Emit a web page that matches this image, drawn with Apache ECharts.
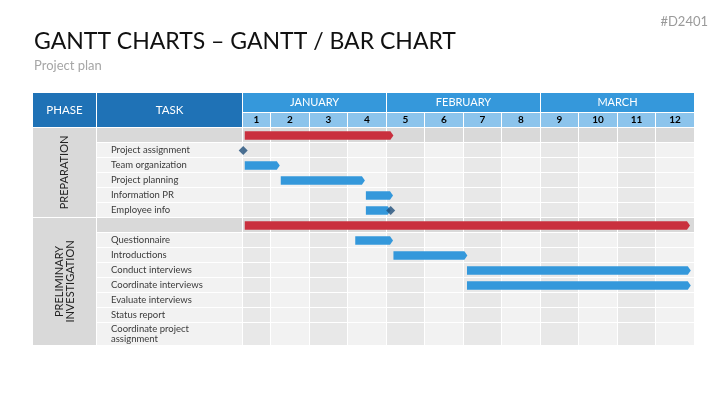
<!DOCTYPE html>
<html><head><meta charset="utf-8">
<script src="https://cdn.jsdelivr.net/npm/echarts@6/dist/echarts.min.js"></script>
<style>html,body{margin:0;padding:0;background:#fff}#c{width:727px;height:409px}</style>
</head><body><div id="c"></div>
<script>
// ---------------- data ----------------
const chartTitle = 'GANTT CHARTS – GANTT / BAR CHART';
const chartSubtitle = 'Project plan';
const docCode = '#D2401';
const headerPhase = 'PHASE';
const headerTask = 'TASK';
const months = ['JANUARY', 'FEBRUARY', 'MARCH'];
const monthFirstWeek = [1, 5, 9];
const monthLastWeek = [4, 8, 12];
const weekLabels = ['1', '2', '3', '4', '5', '6', '7', '8', '9', '10', '11', '12'];
const phaseNames = ['PREPARATION', 'PRELIMINARY\nINVESTIGATION'];
const phaseBarStart = [0.31, 0.31];
const phaseBarEnd = [4.17, 11.87];
const taskNames = ['Project assignment', 'Team organization', 'Project planning', 'Information PR', 'Employee info',
  'Questionnaire', 'Introductions', 'Conduct interviews', 'Coordinate interviews', 'Evaluate interviews',
  'Status report', 'Coordinate project\nassignment'];
const taskPhase = [0, 0, 0, 0, 0, 1, 1, 1, 1, 1, 1, 1];
const taskStart = [null, 0.31, 1.245, 3.455, 3.455, 3.18, 4.17, 6.08, 6.08, null, null, null];
const taskEnd = [null, 1.22, 3.43, 4.16, 4.10, 4.16, 6.09, 11.89, 11.89, null, null, null];
const milestoneWeek = [0.27, null, null, null, 4.10, null, null, null, null, null, null, null];
const timelineStart = 0.265; // visible start of week 1

// ---------------- layout (code) ----------------
const FONT = 'Lato';
const C = {
  headDark: '#1f72b6', headMonth: '#3598db', headWeek: '#8cc4ec',
  grayDark: '#d9d9d9', grayOdd: '#e8e8e8', grayEven: '#f2f2f2',
  red: '#c9303e', blue: '#3498db', navy: '#1f4e79', text: '#3a3a3a'
};
const rows = [];
let yCur = 0;
phaseNames.forEach((p, pi) => {
  const pStart = yCur;
  rows.push({ kind: 'phase', idx: pi, y0: yCur, y1: yCur + 1 }); yCur += 1;
  taskNames.forEach((t, ti) => {
    if (taskPhase[ti] === pi) {
      const h = t.indexOf('\n') >= 0 ? 23 / 15 : 1;
      rows.push({ kind: 'task', idx: ti, y0: yCur, y1: yCur + h }); yCur += h;
    }
  });
  rows.push({ kind: 'phaseEnd', idx: pi, y0: pStart, y1: yCur });
});
const yMax = yCur;
const yMin = -(20 + 15) / 15;
const weekRowTop = -1;

function cellSeries(gridIdx, cells, z) {
  return {
    type: 'custom', xAxisIndex: gridIdx, yAxisIndex: gridIdx, z: z, silent: true,
    encode: { x: [0, 1], y: [2, 3] },
    data: cells.map(c => [c.x0, c.x1, c.y0, c.y1]),
    renderItem: function (params, api) {
      const c = cells[params.dataIndex];
      const p0 = api.coord([api.value(0), api.value(2)]);
      const p1 = api.coord([api.value(1), api.value(3)]);
      const x = Math.round(Math.min(p0[0], p1[0])), y = Math.round(Math.min(p0[1], p1[1]));
      const x2 = Math.round(Math.max(p0[0], p1[0])), y2 = Math.round(Math.max(p0[1], p1[1]));
      const children = [{ type: 'rect', shape: { x: x, y: y, width: x2 - x - 1, height: y2 - y - 1 }, style: { fill: c.fill } }];
      if (c.text) {
        const cx = c.align === 'left' ? x + c.pad : (x + x2 - 1) / 2;
        const cy = (y + y2 - 1) / 2;
        children.push({
          type: 'text', x: cx, y: cy, rotation: c.rotate ? Math.PI / 2 : 0,
          style: {
            text: c.text, fill: c.color, fontFamily: FONT, fontSize: c.size, fontWeight: c.weight || 'normal',
            align: c.align || 'center', verticalAlign: 'middle', lineHeight: c.lh || c.size + 2
          }
        });
      }
      return { type: 'group', children: children };
    }
  };
}

// phase column
const phaseCells = [{ x0: 0, x1: 1, y0: yMin, y1: 0, fill: C.headDark, text: headerPhase, color: '#fff', size: 11.5 }];
rows.filter(r => r.kind === 'phaseEnd').forEach(r => {
  phaseCells.push({ x0: 0, x1: 1, y0: r.y0, y1: r.y1, fill: C.grayDark, text: phaseNames[r.idx], color: '#222', size: 11, rotate: true, lh: 11 });
});
// task column
const taskCells = [{ x0: 0, x1: 1, y0: yMin, y1: 0, fill: C.headDark, text: headerTask, color: '#fff', size: 11.5 }];
rows.forEach(r => {
  if (r.kind === 'phase') taskCells.push({ x0: 0, x1: 1, y0: r.y0, y1: r.y1, fill: C.grayDark });
  if (r.kind === 'task') taskCells.push({ x0: 0, x1: 1, y0: r.y0, y1: r.y1, fill: C.grayEven, text: taskNames[r.idx], color: C.text, size: 9.5, align: 'left', pad: 14, lh: 10 });
});
// timeline
const timeCells = [];
months.forEach((m, i) => {
  timeCells.push({ x0: Math.max(monthFirstWeek[i] - 1, timelineStart), x1: monthLastWeek[i], y0: yMin, y1: weekRowTop, fill: C.headMonth, text: m, color: '#fff', size: 11 });
});
weekLabels.forEach((w, i) => {
  const x0 = Math.max(i, timelineStart), x1 = i + 1;
  timeCells.push({ x0: x0, x1: x1, y0: weekRowTop, y1: 0, fill: C.headWeek, text: w, color: '#000', size: 10, weight: 'bold' });
  rows.forEach(r => {
    if (r.kind === 'phase') timeCells.push({ x0: x0, x1: x1, y0: r.y0, y1: r.y1, fill: C.grayDark });
    if (r.kind === 'task') timeCells.push({ x0: x0, x1: x1, y0: r.y0, y1: r.y1, fill: i % 2 === 0 ? C.grayOdd : C.grayEven });
  });
});

// bars
const bars = [];
rows.forEach(r => {
  const mid = (r.y0 + r.y1) / 2;
  if (r.kind === 'phase') bars.push({ s: phaseBarStart[r.idx], e: phaseBarEnd[r.idx], y: mid, color: C.red });
  if (r.kind === 'task' && taskStart[r.idx] != null) bars.push({ s: taskStart[r.idx], e: taskEnd[r.idx], y: mid, color: C.blue });
});
const milestones = [];
rows.forEach(r => {
  if (r.kind === 'task' && milestoneWeek[r.idx] != null) milestones.push([milestoneWeek[r.idx], (r.y0 + r.y1) / 2]);
});

const barSeries = {
  type: 'custom', xAxisIndex: 2, yAxisIndex: 2, z: 10, silent: true, clip: false,
  encode: { x: [0, 1], y: 2 },
  data: bars.map(b => [b.s, b.e, b.y]),
  renderItem: function (params, api) {
    const b = bars[params.dataIndex];
    const p0 = api.coord([api.value(0), api.value(2)]);
    const p1 = api.coord([api.value(1), api.value(2)]);
    const h = 8.5, tip = 3;
    const t = p0[1] - h / 2, bt = p0[1] + h / 2;
    return {
      type: 'polygon',
      shape: { points: [[p0[0], t], [p1[0] - tip, t], [p1[0], p0[1]], [p1[0] - tip, bt], [p0[0], bt]] },
      style: { fill: b.color }
    };
  }
};

const chart = echarts.init(document.getElementById('c'), null, { renderer: 'canvas' });
chart.setOption({
  animation: false,
  backgroundColor: '#fff',
  title: [
    { text: chartTitle, subtext: chartSubtitle, left: 29, top: 25, itemGap: 6,
      textStyle: { fontFamily: FONT, fontSize: 23, fontWeight: 'normal', color: '#111' },
      subtextStyle: { fontFamily: FONT, fontSize: 13, color: '#a6a6a6' } },
    { text: docCode, right: 14, top: 10, textStyle: { fontFamily: FONT, fontSize: 13, fontWeight: 'normal', color: '#9a9a9a' } }
  ],
  grid: [
    { left: 33, width: 64, top: 93, height: 253 },
    { left: 97, width: 146, top: 93, height: 253 },
    { left: 243, right: 32, top: 93, height: 253 }
  ],
  xAxis: [
    { gridIndex: 0, type: 'value', min: 0, max: 1, show: false },
    { gridIndex: 1, type: 'value', min: 0, max: 1, show: false },
    { gridIndex: 2, type: 'value', min: timelineStart, max: 12, show: false }
  ],
  yAxis: [0, 1, 2].map(i => ({ gridIndex: i, type: 'value', inverse: true, min: yMin, max: yMax, show: false })),
  series: [
    cellSeries(0, phaseCells, 1),
    cellSeries(1, taskCells, 1),
    cellSeries(2, timeCells, 1),
    barSeries,
    { type: 'scatter', xAxisIndex: 2, yAxisIndex: 2, z: 11, silent: true, clip: false,
      symbol: 'diamond', symbolSize: [9, 9], itemStyle: { color: C.navy }, data: milestones }
  ]
});
</script></body></html>
